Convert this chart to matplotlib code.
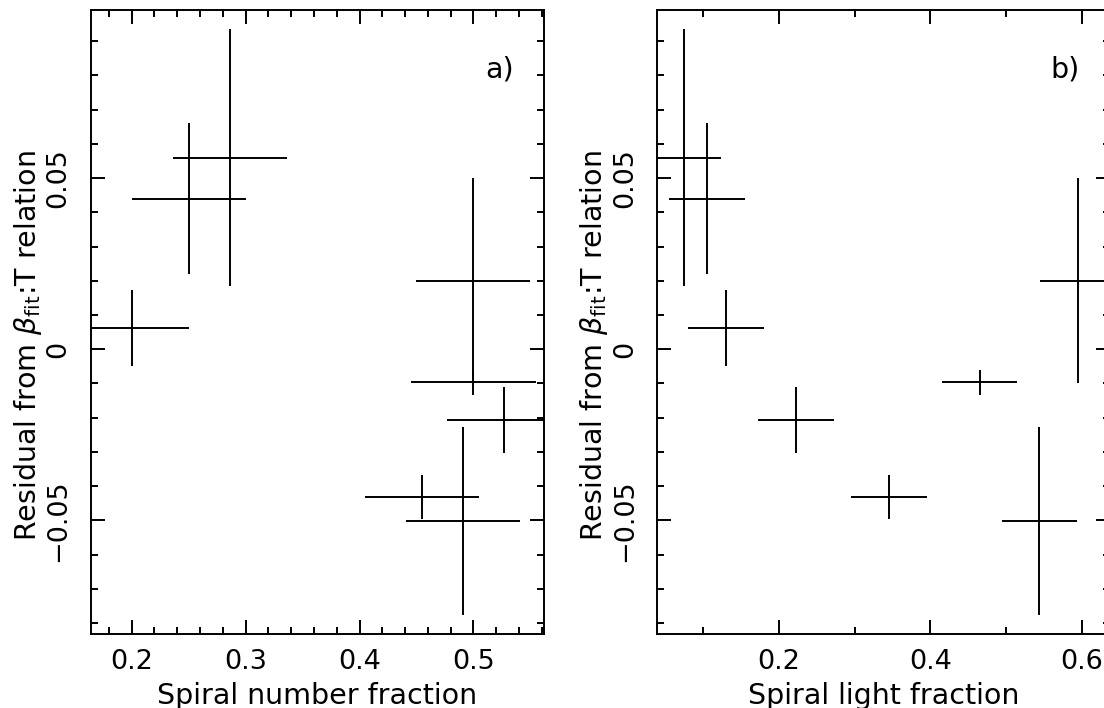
import matplotlib
matplotlib.use("Agg")
import matplotlib.pyplot as plt
from matplotlib.ticker import MultipleLocator, FixedLocator

# ---- data ----
residual = [0.056, 0.044, 0.0062, 0.020, -0.0097, -0.0207, -0.0432, -0.0501]
residual_err = [0.0375, 0.022, 0.011, 0.030, 0.0037, 0.0096, 0.0064, 0.0275]
number_fraction = [0.286, 0.250, 0.200, 0.500, 0.500, 0.527, 0.455, 0.491]
number_fraction_err = [0.05, 0.05, 0.05, 0.05, 0.055, 0.05, 0.05, 0.05]
light_fraction = [0.074, 0.105, 0.130, 0.595, 0.465, 0.222, 0.345, 0.544]
light_fraction_err = [0.05, 0.05, 0.05, 0.05, 0.05, 0.05, 0.05, 0.05]

yticks = [-0.05, 0.0, 0.05]
ytick_labels = ["\u22120.05", "0", "0.05"]
xticks_a = [0.2, 0.3, 0.4, 0.5]
xticks_b = [0.2, 0.4, 0.6]
xlabel_a = "Spiral number fraction"
xlabel_b = "Spiral light fraction"
ylabel = r"Residual from $\beta_{\mathrm{fit}}$:T relation"
panel_labels = ["a)", "b)"]

plt.rcParams["font.family"] = ["DejaVu Sans"]
plt.rcParams["mathtext.fontset"] = "dejavusans"

W, H = 1104, 708
fig = plt.figure(figsize=(W / 100, H / 100), dpi=100)

ax_w = 452.5 / W
ax_h = 624 / H
ax_b = (H - 634) / H
axa = fig.add_axes([91 / W, ax_b, ax_w, ax_h])
axb = fig.add_axes([657.3 / W, ax_b, ax_w, ax_h])

FS = 19.5
LFS = 20.5
LW = 1.4

def style(ax, xlim, xticks, xminor, xlabel, plabel):
    ax.set_xlim(*xlim)
    ax.set_ylim(-0.0832, 0.0991)
    ax.xaxis.set_major_locator(FixedLocator(xticks))
    ax.xaxis.set_minor_locator(MultipleLocator(xminor))
    ax.set_yticks(yticks)
    ax.set_yticklabels(ytick_labels)
    ax.yaxis.set_minor_locator(MultipleLocator(0.01))
    ax.tick_params(which="both", direction="in", top=True, right=True,
                   width=LW, color="black")
    ax.tick_params(which="major", length=10)
    ax.tick_params(which="minor", length=5.3)
    ax.tick_params(axis="x", labelsize=FS, pad=11)
    ax.tick_params(axis="y", labelsize=FS, pad=14, labelrotation=90)
    plt.setp(ax.get_yticklabels(), va="center")
    for s in ax.spines.values():
        s.set_linewidth(LW)
    ax.set_xlabel(xlabel, fontsize=LFS)
    ax.xaxis.set_label_coords(0.5, -0.077)
    ax.set_ylabel(ylabel, fontsize=LFS)
    ax.yaxis.set_label_coords(-0.104, 0.463)
    ax.text(0.902, 0.905, plabel, transform=ax.transAxes, fontsize=LFS,
            ha="center", va="center")

axa.errorbar(number_fraction, residual, xerr=number_fraction_err,
             yerr=residual_err, fmt="none", ecolor="black", elinewidth=LW,
             capsize=0)
axb.errorbar(light_fraction, residual, xerr=light_fraction_err,
             yerr=residual_err, fmt="none", ecolor="black", elinewidth=LW,
             capsize=0)

style(axa, (0.1643, 0.5615), xticks_a, 0.02, xlabel_a, panel_labels[0])
style(axb, (0.0392, 0.637), xticks_b, 0.1, xlabel_b, panel_labels[1])

fig.savefig("out.png", dpi=100)
